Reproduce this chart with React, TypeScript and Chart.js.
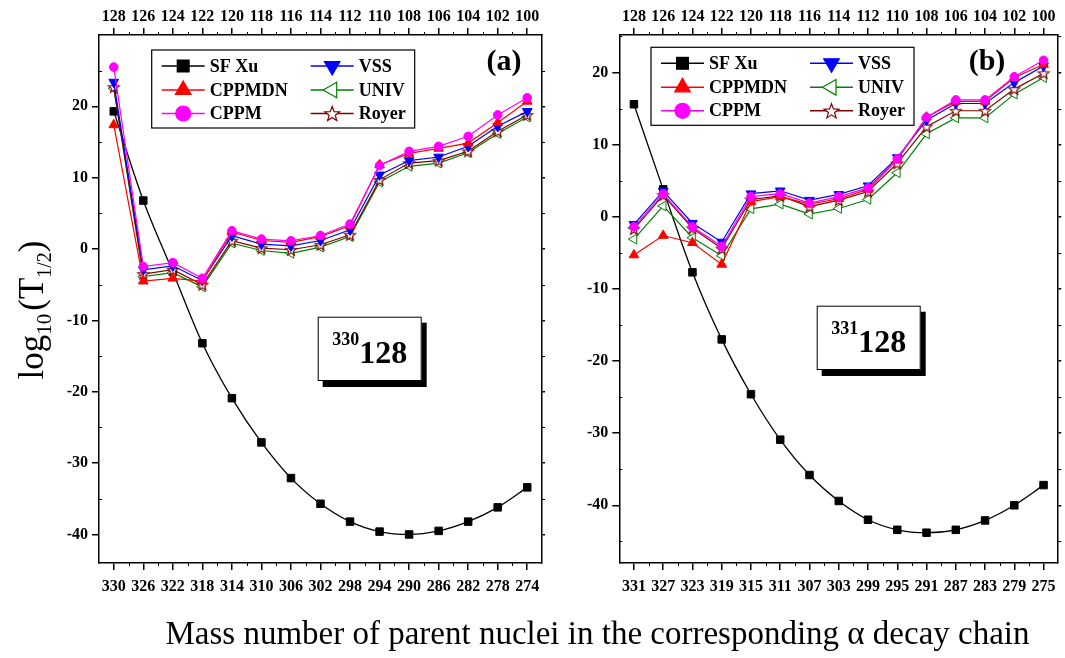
import React, { useEffect, useRef } from 'react';
import { Chart, registerables } from 'chart.js';
Chart.register(...registerables);

const FONT = '"Liberation Serif", "Times New Roman", serif';

// ---------- data ----------
const protonNumbers = [128, 126, 124, 122, 120, 118, 116, 114, 112, 110, 108, 106, 104, 102, 100];
const massChainA = [330, 326, 322, 318, 314, 310, 306, 302, 298, 294, 290, 286, 282, 278, 274];
const massChainB = [331, 327, 323, 319, 315, 311, 307, 303, 299, 295, 291, 287, 283, 279, 275];

const sfXuA = [19.3, 6.8, -3.2, -13.2, -20.9, -27.1, -32.1, -35.7, -38.2, -39.6, -40.0, -39.5, -38.2, -36.2, -33.4];
const cppmdnA = [17.4, -4.5, -4.1, -4.5, 2.4, 1.2, 0.95, 1.75, 3.3, 11.8, 13.4, 14.1, 14.85, 17.7, 20.7];
const cppmA = [25.5, -2.45, -1.9, -4.1, 2.56, 1.4, 1.16, 1.9, 3.5, 11.7, 13.7, 14.4, 15.8, 18.8, 21.2];
const vssA = [23.4, -2.9, -2.35, -4.4, 1.86, 0.7, 0.45, 1.2, 2.7, 10.4, 12.4, 12.9, 14.4, 17.2, 19.3];
const univA = [22.5, -3.85, -3.3, -5.3, 0.83, -0.2, -0.6, 0.27, 1.75, 9.4, 11.6, 12.05, 13.5, 16.2, 18.5];
const royerA = [22.7, -3.5, -2.9, -5.0, 1.16, 0.13, -0.1, 0.6, 2.0, 9.7, 12.05, 12.4, 13.7, 16.5, 18.8];

const sfXuB = [15.6, 3.8, -7.7, -17.0, -24.6, -30.9, -35.8, -39.4, -42.0, -43.4, -43.8, -43.4, -42.1, -40.0, -37.2];
const cppmdnB = [-5.3, -2.6, -3.6, -6.6, 2.1, 2.8, 1.75, 2.5, 3.8, 7.9, 13.8, 16.0, 16.0, 19.3, 21.1];
const cppmB = [-1.4, 3.2, -1.4, -4.1, 2.8, 3.2, 1.9, 2.8, 4.0, 8.0, 13.8, 16.2, 16.2, 19.4, 21.7];
const vssB = [-1.06, 3.56, -0.9, -3.5, 3.2, 3.6, 2.3, 3.1, 4.3, 8.2, 13.4, 15.7, 15.7, 18.6, 20.9];
const univB = [-3.1, 1.5, -2.9, -5.4, 1.1, 1.75, 0.37, 1.15, 2.4, 6.1, 11.5, 13.7, 13.7, 17.0, 19.3];
const royerB = [-1.7, 3.0, -1.6, -4.4, 2.4, 2.9, 1.4, 2.3, 3.5, 7.4, 12.5, 14.7, 14.7, 17.7, 19.9];

const yTickValues = [-40, -30, -20, -10, 0, 10, 20];
const seriesNames = ['SF Xu', 'CPPMDN', 'CPPM', 'VSS', 'UNIV', 'Royer'];

// ---------- styling ----------
const seriesStyles = [
  { color: '#000000', fill: '#000000', style: 'rect', rotation: 0, r: 5.3, lr: 9.2, order: 6 },
  { color: '#ff0000', fill: '#ff0000', style: 'triangle', rotation: 0, r: 5.6, lr: 9, order: 2 },
  { color: '#ff00ff', fill: '#ff00ff', style: 'circle', rotation: 0, r: 4.3, lr: 7.5, order: 1 },
  { color: '#0000ff', fill: '#0000ff', style: 'triangle', rotation: 180, r: 5.6, lr: 9, order: 3 },
  { color: '#008000', fill: '#ffffff', style: 'triangle', rotation: -90, r: 5.6, lr: 9, order: 5 },
  { color: '#800000', fill: '#ffffff', style: 'star', rotation: 0, r: 5.8, lr: 7.8, order: 4 },
];

function starPath(ctx: CanvasRenderingContext2D, cx: number, cy: number, R: number, r: number) {
  ctx.beginPath();
  for (let i = 0; i < 10; i++) {
    const rad = i % 2 === 0 ? R : r;
    const a = -Math.PI / 2 + (i * Math.PI) / 5;
    const x = cx + rad * Math.cos(a);
    const y = cy + rad * Math.sin(a);
    if (i === 0) ctx.moveTo(x, y);
    else ctx.lineTo(x, y);
  }
  ctx.closePath();
}

function makeStar(R: number, stroke: string) {
  const c = document.createElement('canvas');
  const s = Math.ceil(2 * R + 4);
  c.width = s;
  c.height = s;
  const ctx = c.getContext('2d')!;
  starPath(ctx, s / 2, s / 2 + R * 0.1, R, R * 0.42);
  ctx.fillStyle = '#ffffff';
  ctx.fill();
  ctx.strokeStyle = stroke;
  ctx.lineWidth = 1.1;
  ctx.stroke();
  return c;
}

function drawMarker(ctx: CanvasRenderingContext2D, st: any, x: number, y: number) {
  const r = st.lr;
  ctx.save();
  ctx.fillStyle = st.fill;
  ctx.strokeStyle = st.color;
  ctx.lineWidth = 1.2;
  ctx.translate(x, y);
  ctx.rotate((st.rotation * Math.PI) / 180);
  if (st.style === 'rect') {
    const s = r * Math.SQRT1_2;
    ctx.fillRect(-s, -s, 2 * s, 2 * s);
  } else if (st.style === 'circle') {
    ctx.beginPath();
    ctx.arc(0, 0, r, 0, Math.PI * 2);
    ctx.fill();
    ctx.stroke();
  } else if (st.style === 'triangle') {
    ctx.beginPath();
    ctx.moveTo(0, -r);
    ctx.lineTo(r * Math.cos(Math.PI / 6), r * Math.sin(Math.PI / 6));
    ctx.lineTo(-r * Math.cos(Math.PI / 6), r * Math.sin(Math.PI / 6));
    ctx.closePath();
    ctx.fill();
    ctx.stroke();
  } else if (st.style === 'star') {
    starPath(ctx, 0, r * 0.1, r, r * 0.42);
    ctx.fill();
    ctx.stroke();
  }
  ctx.restore();
}

type PanelCfg = {
  mass: number[];
  series: number[][];
  yMin: number;
  yMax: number;
  tag: string;
  tagX: number;
  tagY: number;
  nucA: string;
  nucZ: string;
  boxX: number;
  boxY: number;
  legX: number;
  legY: number;
  leftW: number;
  rightW: number;
  canvasW: number;
  canvasLeft: number;
  yTitle: boolean;
};

const panelA: PanelCfg = {
  mass: massChainA,
  series: [sfXuA, cppmdnA, cppmA, vssA, univA, royerA],
  yMin: -44, yMax: 30,
  tag: '(a)', tagX: 405, tagY: 27,
  nucA: '330', nucZ: '128', boxX: 218.7, boxY: 281.7,
  legX: 52.7, legY: 15,
  leftW: 99, rightW: 18, canvasW: 560, canvasLeft: 0, yTitle: true,
};

const panelB: PanelCfg = {
  mass: massChainB,
  series: [sfXuB, cppmdnB, cppmB, vssB, univB, royerB],
  yMin: -48, yMax: 25.2,
  tag: '(b)', tagX: 367.7, tagY: 27,
  nucA: '331', nucZ: '128', boxX: 197.4, boxY: 270.7,
  legX: 31.7, legY: 12.3,
  leftW: 59.3, rightW: 2.7, canvasW: 505, canvasLeft: 560, yTitle: false,
};

function buildConfig(p: PanelCfg): any {
  const idx = p.mass.map((_, i) => i);
  const tickFont = { family: FONT, size: 16, weight: 'bold' as const };
  const starImg = makeStar(seriesStyles[5].r, seriesStyles[5].color);

  const datasets = p.series.map((vals, si) => {
    const st = seriesStyles[si];
    return {
      label: seriesNames[si],
      data: vals.map((v, i) => ({ x: idx[i], y: v })),
      borderColor: st.color,
      backgroundColor: st.fill,
      borderWidth: si === 0 ? 1.3 : 1.2,
      pointStyle: st.style === 'star' ? starImg : st.style,
      pointRotation: st.rotation,
      pointRadius: st.r,
      pointBorderWidth: 1,
      pointBorderColor: st.color,
      pointBackgroundColor: st.fill,
      cubicInterpolationMode: si === 0 ? 'monotone' : 'default',
      tension: 0,
      order: st.order,
      xAxisID: 'x',
      yAxisID: 'y',
    };
  });

  const xCommon = (labels: number[], pos: string, h: number, pad: number) => ({
    type: 'linear',
    position: pos,
    min: -0.5,
    max: 14.5,
    afterBuildTicks: (s: any) => { s.ticks = idx.map((v) => ({ value: v })); },
    ticks: {
      callback: (v: number) => String(labels[Math.round(v)]),
      font: tickFont,
      color: '#000',
      padding: pad,
      maxRotation: 0,
      autoSkip: false,
    },
    grid: { drawOnChartArea: false, drawTicks: true, tickLength: 7, color: '#000', lineWidth: 1.5 },
    border: { display: true, color: '#000', width: 1.5 },
    afterFit: (s: any) => { s.height = h; s.paddingLeft = 0; s.paddingRight = 0; },
  });

  const plugin = {
    id: 'decor' + p.tag,
    afterDraw(chart: any) {
      const ctx: CanvasRenderingContext2D = chart.ctx;
      const ca = chart.chartArea;
      const xs = chart.scales.x;
      const ys = chart.scales.y;
      ctx.save();
      // minor ticks
      ctx.strokeStyle = '#000';
      ctx.lineWidth = 1;
      for (let i = 0; i < idx.length - 1; i++) {
        const px = Math.round(xs.getPixelForValue(i + 0.5)) + 0.5;
        ctx.beginPath();
        ctx.moveTo(px, ca.bottom); ctx.lineTo(px, ca.bottom + 3);
        ctx.moveTo(px, ca.top); ctx.lineTo(px, ca.top - 3);
        ctx.stroke();
      }
      for (let v = -45; v <= 25; v += 10) {
        if (v < p.yMin || v > p.yMax) continue;
        const py = Math.round(ys.getPixelForValue(v)) + 0.5;
        ctx.beginPath();
        ctx.moveTo(ca.left, py); ctx.lineTo(ca.left + 3, py);
        ctx.moveTo(ca.right, py); ctx.lineTo(ca.right + 3, py);
        ctx.stroke();
      }

      // legend
      const lx = ca.left + p.legX;
      const ly = ca.top + p.legY;
      ctx.fillStyle = '#fff';
      ctx.fillRect(lx, ly, 263, 78);
      ctx.strokeStyle = '#000';
      ctx.lineWidth = 1.2;
      ctx.strokeRect(lx, ly, 263, 78);
      const rows = [16, 40, 63.5];
      ctx.font = `bold 18px ${FONT}`;
      ctx.textBaseline = 'middle';
      ctx.textAlign = 'left';
      seriesNames.forEach((name, si) => {
        const col = si < 3 ? 0 : 1;
        const row = si % 3;
        const x0 = lx + (col === 0 ? 10 : 159);
        const y0 = ly + rows[row];
        const st = seriesStyles[si];
        ctx.strokeStyle = st.color;
        ctx.lineWidth = 1.4;
        ctx.beginPath();
        ctx.moveTo(x0, y0); ctx.lineTo(x0 + 43, y0);
        ctx.stroke();
        drawMarker(ctx, st, x0 + 21.5, y0);
        ctx.fillStyle = '#000';
        ctx.fillText(name, x0 + 48, y0 + 1);
      });

      // panel tag
      ctx.font = `bold 30px ${FONT}`;
      ctx.textAlign = 'center';
      ctx.textBaseline = 'middle';
      ctx.fillStyle = '#000';
      ctx.fillText(p.tag, ca.left + p.tagX, ca.top + p.tagY);

      // nucleus box
      const bx = ca.left + p.boxX;
      const by = ca.top + p.boxY;
      const bw = 104;
      const bh = 64.3;
      ctx.fillStyle = '#000';
      ctx.fillRect(bx + 5, by + 6, bw, bh);
      ctx.fillStyle = '#fff';
      ctx.fillRect(bx, by, bw, bh);
      ctx.strokeStyle = '#000';
      ctx.lineWidth = 1;
      ctx.strokeRect(bx + 0.5, by + 0.5, bw - 1, bh - 1);
      ctx.fillStyle = '#000';
      ctx.textBaseline = 'alphabetic';
      ctx.textAlign = 'left';
      ctx.font = `bold 18px ${FONT}`;
      const wA = ctx.measureText(p.nucA).width;
      ctx.font = `bold 32px ${FONT}`;
      const wZ = ctx.measureText(p.nucZ).width;
      const tx = bx + bw / 2 - (wA + wZ) / 2;
      ctx.font = `bold 18px ${FONT}`;
      ctx.fillText(p.nucA, tx, by + 28.3);
      ctx.font = `bold 32px ${FONT}`;
      ctx.fillText(p.nucZ, tx + wA, by + 46.6);

      // y title
      if (p.yTitle) {
        const parts = [
          { t: 'log', size: 35, dy: 0 },
          { t: '10', size: 21, dy: 8 },
          { t: '(T', size: 35, dy: 0 },
          { t: '1/2', size: 20, dy: 8 },
          { t: ')', size: 35, dy: 0 },
        ];
        let total = 0;
        parts.forEach((pt) => {
          ctx.font = `${pt.size}px ${FONT}`;
          total += ctx.measureText(pt.t).width + (pt.t === '10' ? 3 : 0);
        });
        ctx.translate(43, 310);
        ctx.rotate(-Math.PI / 2);
        let cx = -total / 2;
        parts.forEach((pt) => {
          ctx.font = `${pt.size}px ${FONT}`;
          ctx.fillText(pt.t, cx, pt.dy);
          cx += ctx.measureText(pt.t).width + (pt.t === '10' ? 3 : 0);
        });
      }
      ctx.restore();
    },
  };

  return {
    type: 'line',
    data: { datasets },
    options: {
      responsive: false,
      animation: false,
      devicePixelRatio: 1,
      layout: { padding: 0 },
      plugins: { legend: { display: false }, tooltip: { enabled: false } },
      events: [],
      scales: {
        x: xCommon(p.mass, 'bottom', 95, 7),
        x2: xCommon(protonNumbers, 'top', 35, 2),
        y: {
          type: 'linear',
          position: 'left',
          min: p.yMin,
          max: p.yMax,
          afterBuildTicks: (s: any) => { s.ticks = yTickValues.map((v) => ({ value: v })); },
          ticks: { callback: (v: number) => String(v), font: tickFont, color: '#000', padding: 4 },
          grid: { drawOnChartArea: false, drawTicks: true, tickLength: 7, color: '#000', lineWidth: 1.5 },
          border: { display: true, color: '#000', width: 1.5 },
          afterFit: (s: any) => { s.width = p.leftW; s.paddingTop = 0; s.paddingBottom = 0; },
        },
        y2: {
          type: 'linear',
          position: 'right',
          min: p.yMin,
          max: p.yMax,
          afterBuildTicks: (s: any) => { s.ticks = yTickValues.map((v) => ({ value: v })); },
          ticks: { display: false },
          grid: { drawOnChartArea: false, drawTicks: true, tickLength: 3, color: '#000', lineWidth: 1.5 },
          border: { display: true, color: '#000', width: 1.5 },
          afterFit: (s: any) => { s.width = p.rightW; s.paddingTop = 0; s.paddingBottom = 0; },
        },
      },
    },
    plugins: [plugin],
  };
}

function Panel({ cfg }: { cfg: PanelCfg }) {
  const ref = useRef<HTMLCanvasElement | null>(null);
  useEffect(() => {
    const chart = new Chart(ref.current as HTMLCanvasElement, buildConfig(cfg));
    return () => chart.destroy();
  }, [cfg]);
  return (
    <canvas
      ref={ref}
      width={cfg.canvasW}
      height={658}
      style={{ position: 'absolute', left: cfg.canvasLeft, top: 0, width: cfg.canvasW, height: 658 }}
    />
  );
}

export default function App() {
  return (
    <div style={{ position: 'fixed', left: 0, top: 0, width: 1065, height: 658, background: '#fff', overflow: 'hidden' }}>
      <Panel cfg={panelA} />
      <Panel cfg={panelB} />
      <div
        style={{
          position: 'absolute',
          left: 597.5,
          top: 617.3,
          transform: 'translateX(-50%)',
          whiteSpace: 'nowrap',
          fontFamily: FONT,
          fontSize: 33,
          lineHeight: '33px',
          color: '#000',
        }}
      >
        Mass number of parent nuclei in the corresponding α decay chain
      </div>
    </div>
  );
}
